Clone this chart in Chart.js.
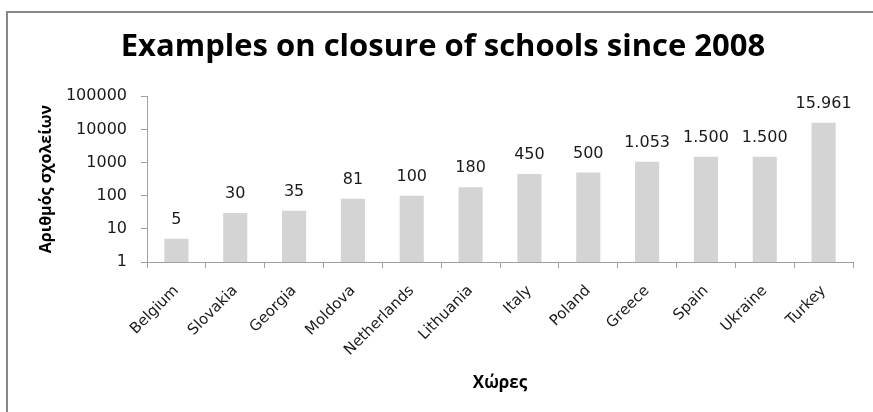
<!DOCTYPE html>
<html>
<head>
<meta charset="utf-8">
<script src="https://cdn.jsdelivr.net/npm/chart.js@4"></script>
<style>
    html, body { margin: 0; padding: 0; background: #fff; }
    #wrap { position: relative; width: 873px; height: 412px; overflow: hidden; }
    #frame { position: absolute; left: 6px; top: 11px; width: 900px; height: 450px; border-left: 2px solid #878787; border-top: 2px solid #878787; }
    canvas { position: absolute; left: 0; top: 0; }
</style>
</head>
<body>
<div id="wrap">
    <div id="frame"></div>
    <canvas id="chart-schools" width="873" height="412"></canvas>
</div>
<script>
var countries = ['Belgium', 'Slovakia', 'Georgia', 'Moldova', 'Netherlands', 'Lithuania', 'Italy', 'Poland', 'Greece', 'Spain', 'Ukraine', 'Turkey'];
var schools = [5, 30, 35, 81, 100, 180, 450, 500, 1053, 1500, 1500, 15961];
var yTicks = [1, 10, 100, 1000, 10000, 100000];

var titleFamily = '"Open Sans", sans-serif';
var textFamily = '"DejaVu Sans", sans-serif';
var axisColor = '#a0a0a0';

// greek style thousands separator: 1.053, 15.961
function formatNumber(v) {
    return String(v).replace(/\B(?=(\d{3})+(?!\d))/g, '.');
}

var valueLabels = {
    id: 'valueLabels',
    afterDatasetsDraw: function(chart) {
        var ctx = chart.ctx;
        var meta = chart.getDatasetMeta(0);
        ctx.save();
        ctx.font = '16px ' + textFamily;
        ctx.fillStyle = '#1a1a1a';
        ctx.textAlign = 'center';
        ctx.textBaseline = 'bottom';
        meta.data.forEach(function(bar, i) {
            ctx.fillText(formatNumber(schools[i]), bar.x, bar.y - 11);
        });
        ctx.restore();
    }
};

var ctx = document.getElementById('chart-schools');
new Chart(ctx, {
    type: 'bar',
    data: {
        labels: countries,
        datasets: [{
            data: schools,
            backgroundColor: '#d4d4d4',
            borderWidth: 0,
            categoryPercentage: 1,
            barPercentage: 0.41
        }]
    },
    options: {
        responsive: false,
        animation: false,
        layout: { padding: { left: 33, right: 20, top: 0, bottom: 0 } },
        plugins: {
            legend: { display: false },
            tooltip: { enabled: false },
            title: {
                display: true,
                text: 'Examples on closure of schools since 2008',
                color: '#000',
                font: { family: titleFamily, size: 31, weight: 'bold' },
                padding: { top: 29, bottom: 30 }
            }
        },
        scales: {
            x: {
                grid: { drawOnChartArea: false, offset: true, tickLength: 6, color: axisColor },
                border: { color: axisColor },
                ticks: {
                    minRotation: 45,
                    maxRotation: 45,
                    padding: 14,
                    color: '#1a1a1a',
                    font: { family: textFamily, size: 15 }
                },
                title: {
                    display: true,
                    text: 'Χώρες',
                    color: '#000',
                    font: { family: titleFamily, size: 17, weight: 'bold' },
                    padding: { top: 10, bottom: 19 }
                },
                afterFit: function(scale) { scale.height = 150; }
            },
            y: {
                type: 'logarithmic',
                min: 1,
                max: 100000,
                afterBuildTicks: function(scale) {
                    scale.ticks = yTicks.map(function(v) { return { value: v }; });
                },
                grid: { drawOnChartArea: false, tickLength: 6, color: axisColor },
                border: { color: axisColor },
                ticks: {
                    padding: 14,
                    color: '#1a1a1a',
                    font: { family: textFamily, size: 16 },
                    callback: function(v) { return String(v); }
                },
                title: {
                    display: true,
                    text: 'Αριθμός σχολείων',
                    color: '#000',
                    font: { family: titleFamily, size: 16, weight: 'bold' },
                    padding: { top: 4, bottom: 0 }
                },
                afterFit: function(scale) { scale.width = 114; }
            }
        }
    },
    plugins: [valueLabels]
});
</script>
</body>
</html>
